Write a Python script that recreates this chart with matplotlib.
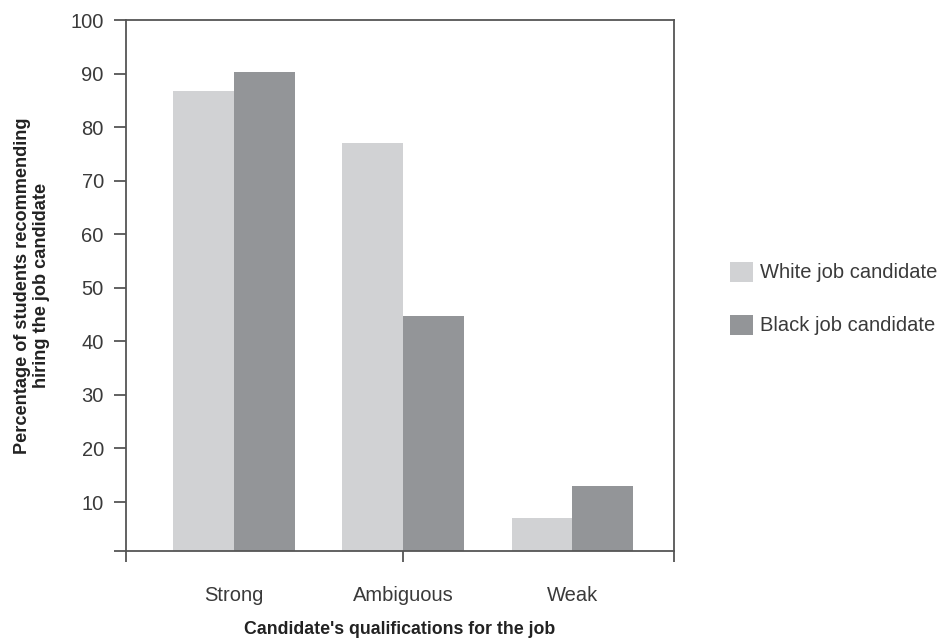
import numpy as np
import matplotlib.pyplot as plt
from matplotlib.patches import Patch

plt.rcParams['font.family'] = ['Liberation Sans', 'DejaVu Sans']

categories = ['Strong', 'Ambiguous', 'Weak']
white_vals = [86.8, 77.0, 7.0]
black_vals = [90.3, 44.7, 13.0]
series_names = ['White job candidate', 'Black job candidate']
yticks = [10, 20, 30, 40, 50, 60, 70, 80, 90, 100]

light = '#d1d2d4'
dark = '#939598'
txt = '#3a3a3a'
spine = '#555555'

fig = plt.figure(figsize=(9.43, 6.42), dpi=100)
ax = fig.add_axes([0.1336, 0.1417, 0.5811, 0.8271])

x = np.arange(len(categories))
w = 0.36
ax.bar(x - w / 2, white_vals, w, color=light, edgecolor='none', zorder=2)
ax.bar(x + w / 2, black_vals, w, color=dark, edgecolor='none', zorder=2)

xmin, xmax = -0.64, 2.60
ymin = 0.85
ax.set_xlim(xmin, xmax)
ax.set_ylim(ymin, 100)

for s in ax.spines.values():
    s.set_color(spine)
    s.set_linewidth(1.3)

# y ticks, plus one at the bottom corner with no label
ax.set_yticks([ymin] + yticks)
ax.set_yticklabels([''] + [str(t) for t in yticks])
ax.tick_params(axis='y', direction='out', length=9, width=1.3, color=spine,
               labelsize=14.5, labelcolor=txt, pad=7)

# x: ticks at the corners and under the middle group, category labels on minor ticks
ax.xaxis.remove_overlapping_locs = False
ax.set_xticks([xmin, 1, xmax])
ax.set_xticklabels(['', '', ''])
ax.tick_params(axis='x', which='major', direction='out', length=8, width=1.3, color=spine)
ax.set_xticks(x, minor=True)
ax.set_xticklabels(categories, minor=True)
ax.tick_params(axis='x', which='minor', length=0, labelsize=14.5, labelcolor=txt, pad=25)

ax.set_xlabel("Candidate's qualifications for the job", fontsize=12.8, fontweight='bold',
              color='#222222', labelpad=12)
ax.set_ylabel('Percentage of students recommending\nhiring the job candidate', fontsize=13.1,
              fontweight='bold', color='#222222', labelpad=15, linespacing=1.15)

handles = [Patch(facecolor=light, edgecolor='none'), Patch(facecolor=dark, edgecolor='none')]
fig.legend(handles, series_names, loc='center left', bbox_to_anchor=(0.774, 0.535),
           frameon=False, fontsize=14.5, labelcolor=txt, handlelength=1.15, handleheight=1.15,
           handletextpad=0.35, labelspacing=1.6, borderpad=0, borderaxespad=0)

fig.savefig('out.png', dpi=100)
